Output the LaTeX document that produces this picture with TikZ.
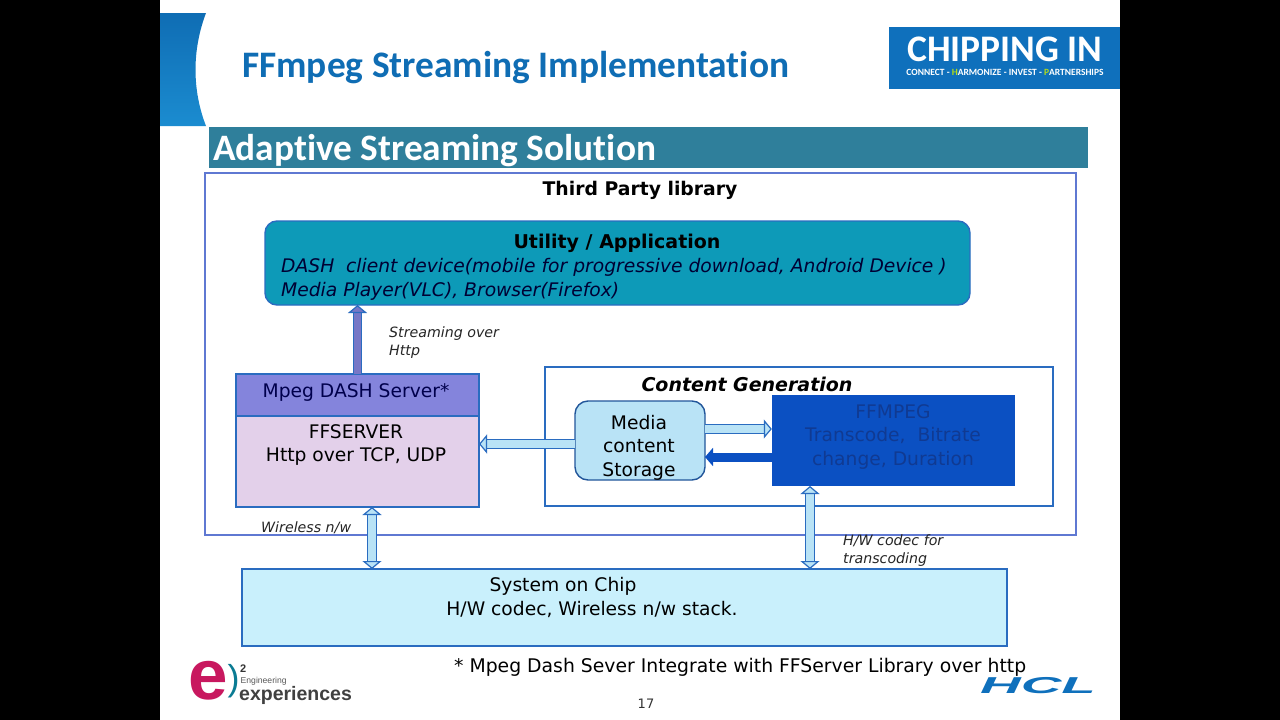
\documentclass[tikz,border=0pt]{standalone}
\usepackage{fontspec}
\setmainfont{DejaVu Sans}
\newfontfamily\titlefont[Ligatures=NoCommon]{Carlito}
\newfontfamily\logofont{Liberation Sans}
\usetikzlibrary{arrows.meta}
\usetikzlibrary{positioning}

\definecolor{edgeblue}{HTML}{2A6CC0}
\definecolor{framepurple}{HTML}{5F78D2}
\definecolor{titleblue}{HTML}{0F6DB4}
\definecolor{cornerlow}{HTML}{1B8CD0}
\definecolor{barteal}{HTML}{2F7F9B}
\definecolor{appteal}{HTML}{0D9AB8}
\definecolor{serverhead}{HTML}{8484DC}
\definecolor{serverbody}{HTML}{E3D0EA}
\definecolor{storagefill}{HTML}{B9E3F6}
\definecolor{codecblue}{HTML}{0B50C2}
\definecolor{codectext}{HTML}{103A92}
\definecolor{socfill}{HTML}{C9F0FC}
\definecolor{logoblue}{HTML}{0F70BC}
\definecolor{logopink}{HTML}{C8185F}

\tikzset{
    block/.style={draw=edgeblue, line width=1.4pt, inner sep=0pt, outer sep=0pt, align=center, text=black},
    notelabel/.style={inner sep=0pt, align=left, font=\fontsize{14.2}{18}\selectfont\itshape, text=black!85},
    boxlabel/.style={inner sep=0pt, align=center, font=\fontsize{18.7}{23.5}\selectfont},
    pipe/.style={draw=edgeblue, line width=1.2pt, double=#1, double distance=7.5pt, >={Triangle[length=8pt, width=19pt, fill=#1, line width=1.2pt]}},
    pipe/.default=storagefill,
}

\begin{document}
\begin{tikzpicture}[x=1pt,y=-1pt]

    \fill [black] (0,0) rectangle (1280,720);
    \useasboundingbox (0,0) rectangle (1280,720);
    \fill [white] (160,0) rectangle (1120,720);

    % slide header
    \shade [top color=titleblue, bottom color=cornerlow] (160,13) -- (206,13) .. controls (192,50) and (192,90) .. (206,126) -- (160,126) -- cycle;
    \node [inner sep=0pt, anchor=west, text=titleblue, font=\titlefont\bfseries\fontsize{37.4}{42}\selectfont] (title) at (242,68) {FFmpeg Streaming Implementation};

    \node [fill=logoblue, minimum width=231, minimum height=62, inner sep=0pt] (badge) at (1004.5,58) {};
    \node [inner sep=0pt, text=white, font=\titlefont\bfseries\fontsize{37.5}{42}\selectfont] (badgename) at (1005,49) {CHIPPING IN};
    \node [inner sep=0pt, text=white, font=\titlefont\bfseries\fontsize{9.5}{11}\selectfont] (badgetag) at (1005,72.5) {CONNECT - \textcolor{yellow!70!green}{H}ARMONIZE - INVEST - \textcolor{yellow!70!green}{P}ARTNERSHIPS};

    \node [fill=barteal, minimum width=879, minimum height=41, inner sep=0pt] (bar) at (648.5,147.5) {};
    \node [inner sep=0pt, anchor=west, text=white, font=\titlefont\bfseries\fontsize{37.3}{42}\selectfont] (bartext) at (213,151) {Adaptive Streaming Solution};

    % outer frames
    \node [block, draw=framepurple, line width=1.8pt, minimum width=871, minimum height=362] (library) at (640.5,354) {};
    \node [inner sep=0pt, font=\bfseries\fontsize{18.8}{22}\selectfont] (librarytext) at (640,190) {Third Party library};

    \node [block, minimum width=508, minimum height=139] (content) at (799,436.5) {};
    \node [inner sep=0pt, font=\bfseries\itshape\fontsize{19}{22}\selectfont] (contenttext) at (747,384) {Content Generation};

    % application
    \node [block, fill=appteal, rounded corners=12pt, minimum width=705, minimum height=84] (app) at (617.5,263) {};
    \node [inner sep=0pt, font=\bfseries\fontsize{19}{22}\selectfont] (apptitle) at (617,243.5) {Utility / Application};
    \node [inner sep=0pt, anchor=north west, align=left, text=black!80!blue, font=\itshape\fontsize{18.7}{24}\selectfont] (applines) at (281,258) {DASH\ \ client device(mobile for progressive download, Android Device )\\Media Player(VLC), Browser(Firefox)};

    % server
    \node [block, fill=serverhead, minimum width=243, minimum height=42] (dash) at (357.5,395) {};
    \node [boxlabel, text=black!70!blue] (dashtext) at (356,393) {Mpeg DASH Server*};
    \node [block, fill=serverbody, minimum width=243, minimum height=91, below=0pt of dash] (ffserver) {};
    \node [boxlabel] (ffservertext) at (356,445) {FFSERVER\\Http over TCP, UDP};

    % content generation
    \node [block, fill=storagefill, draw=edgeblue!80!black, rounded corners=13pt, minimum width=130, minimum height=79] (storage) at (640,440.5) {};
    \node [boxlabel] (storagetext) at (639,447.5) {Media\\content\\Storage};
    \node [fill=codecblue, inner sep=0pt, minimum width=243, minimum height=91] (ffmpeg) at (893.5,440.5) {};
    \node [boxlabel, text=codectext] (ffmpegtext) at (893,437) {FFMPEG\\Transcode,\ \ Bitrate\\change, Duration};

    % system on chip
    \node [block, fill=socfill, minimum width=765, minimum height=77] (soc) at (624.5,607.5) {};
    \node [boxlabel] (soctext) at (592,597.5) {\hspace*{-58pt}System on Chip\\H/W codec, Wireless n/w stack.};

    % connectors
    \coordinate (wirelesstop) at (372,507);
    \coordinate (codectop) at (810,486);
    \coordinate (linkstorage) at (575,444);
    \coordinate (linkforward) at (705,429);
    \coordinate (linkback) at (772,457);

    \draw [pipe=serverhead!90!black, ->] (dash.north) -- (dash.north |- app.south);
    \draw [pipe, <->] (wirelesstop) -- (wirelesstop |- soc.north);
    \draw [pipe, <->] (codectop) -- (codectop |- soc.north);
    \draw [pipe, ->] (linkstorage) -- (linkstorage -| ffserver.east);
    \draw [pipe, ->] (linkforward) -- (linkforward -| ffmpeg.west);
    \draw [draw=codecblue, line width=9pt, -{Triangle[length=8pt, width=18pt]}] (linkback) -- (linkback -| storage.east);

    % connector notes
    \node [notelabel, anchor=north west] (streamnote) at (389,327) {Streaming over\\Http};
    \node [notelabel, anchor=west] (wirelessnote) at (261,528) {Wireless n/w};
    \node [notelabel, anchor=north west] (codecnote) at (843,535) {H/W codec for\\transcoding};

    % footer
    \node [inner sep=0pt, anchor=west, font=\fontsize{18.8}{22}\selectfont] (footnote) at (454,667) {* Mpeg Dash Sever Integrate with FFServer Library over http};
    \node [inner sep=0pt, text=black!80, font=\fontsize{13}{15}\selectfont] (pagenum) at (646,704) {17};

    \node [inner sep=0pt, text=logopink, font=\logofont\bfseries\fontsize{71}{71}\selectfont] (logoe) at (208,681) {e};
    \node [inner sep=0pt, text=appteal!80!black, font=\logofont\fontsize{36}{36}\selectfont] (logobracket) at (233.5,681) {)};
    \node [inner sep=0pt, anchor=west, text=black!80, font=\logofont\bfseries\fontsize{11}{12}\selectfont] (logotwo) at (240,669) {2};
    \node [inner sep=0pt, anchor=west, text=black!65, font=\logofont\fontsize{8.6}{9}\selectfont] (logoeng) at (240.5,681.5) {Engineering};
    \node [inner sep=0pt, anchor=west, text=black!75, font=\logofont\bfseries\fontsize{19.5}{20}\selectfont] (logoexp) at (239,695) {experiences};

    \node [inner sep=0pt, text=logoblue, xscale=2.45, font=\logofont\bfseries\itshape\fontsize{23}{25}\selectfont] (logohcl) at (1038,686) {HCL};

\end{tikzpicture}
\end{document}
